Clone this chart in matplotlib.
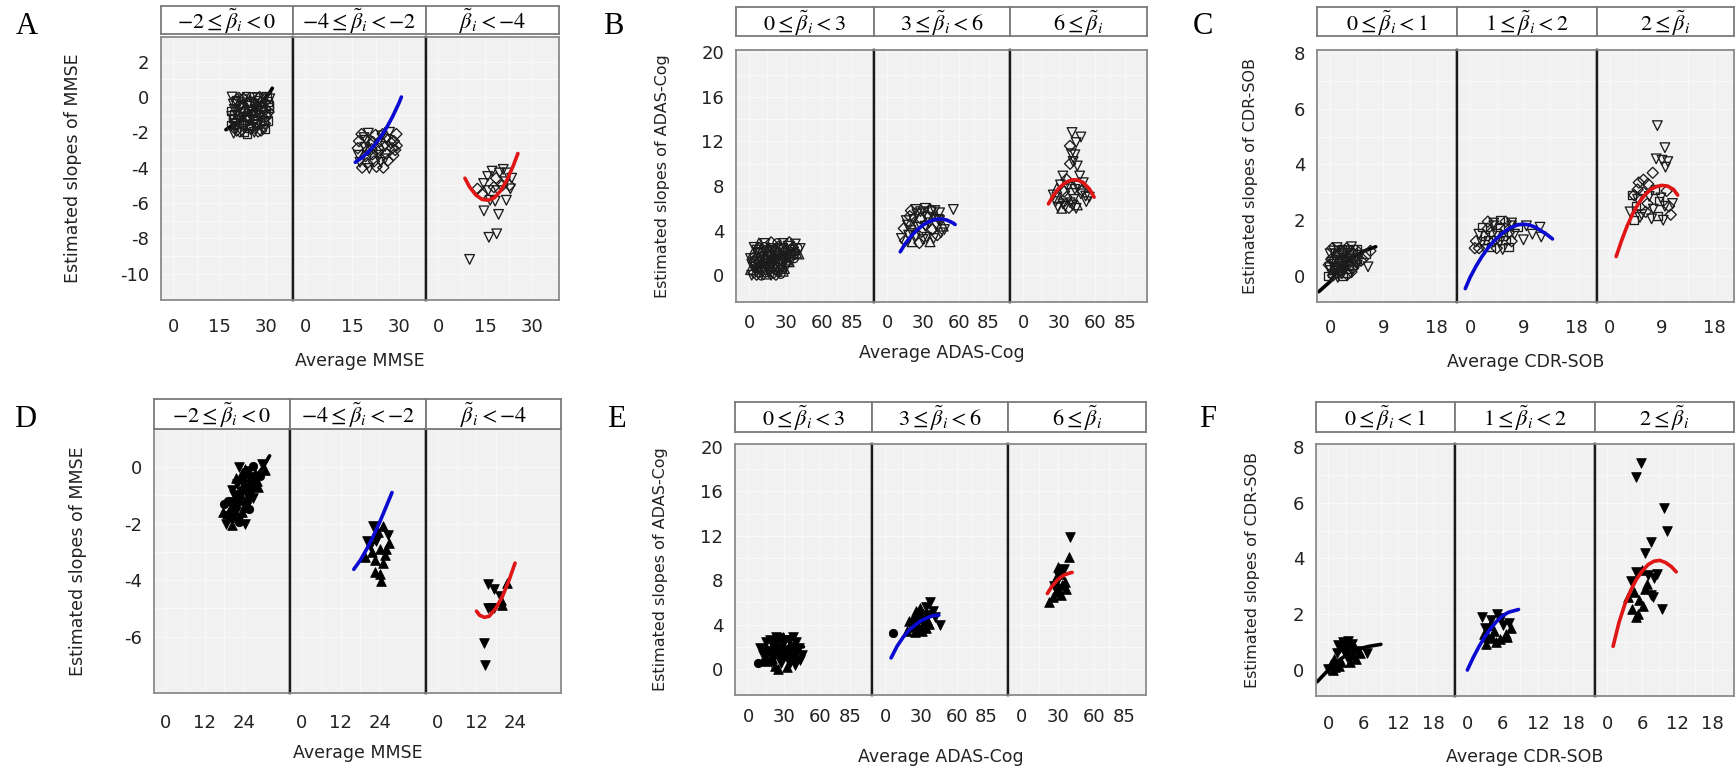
import matplotlib
matplotlib.use('Agg')
import matplotlib.pyplot as plt
import numpy as np

plt.rcParams['mathtext.fontset'] = 'stix'
plt.rcParams['font.family'] = ['DejaVu Sans']

# ---------------- DATA ----------------
# Panel A (MMSE, hollow markers)
A1_x = [19.5,21.5,23.8,26.2,28.4, 18.6,20.7,22.9,25.1,27.3,29.6, 19.2,21.4,23.5,25.8,28.0,30.2,
        18.8,20.9,23.1,25.4,27.6,29.9,31.0, 19.4,21.6,23.9,26.0,28.3,30.5, 19.0,21.2,23.4,25.7,27.9,30.1,
        20.0,22.2,24.5,26.8,29.0, 19.8,22.0,24.2,26.5,28.7,30.8, 20.3,22.5,24.8,27.1,29.3, 20.1,22.6,24.6,27.0,29.4,31.2,
        20.5,22.8,25.0,27.4,29.7, 19.6,21.8,24.0,26.3,28.6,30.6, 18.9,21.1,23.3,25.6,27.8,30.0,
        19.7,21.9,24.1,26.4,28.6,30.9, 20.4,22.7,25.0,27.2,29.5]
A1_y = [-2.05,-1.95,-2.1,-2.0,-1.9, -1.6,-1.7,-1.55,-1.65,-1.6,-1.5, -1.2,-1.3,-1.15,-1.25,-1.2,-1.1,
        -0.8,-0.85,-0.75,-0.9,-0.8,-0.7,-0.6, -0.4,-0.45,-0.35,-0.4,-0.3,-0.25, 0.0,-0.05,0.02,-0.03,0.0,0.05,
        -1.8,-1.85,-1.75,-1.8,-1.7, -1.0,-0.95,-1.05,-1.0,-0.9,-0.85, -0.2,-0.15,-0.25,-0.2,-0.1, -1.4,-0.6,-1.35,-0.55,-1.3,-0.1,
        -1.9,-2.0,-1.85,-1.95,-1.8, -1.5,-1.45,-1.55,-1.4,-1.5,-1.35, -1.1,-1.05,-1.15,-1.1,-1.0,-0.95,
        -0.7,-0.65,-0.75,-0.7,-0.6,-0.45, -0.3,-0.1,-0.25,-0.05,-0.3]
A1_m = "vDsvDsvDsvDsvDsvDsvDsvDsvDsvDsvDsvDsvDsvDsvDsvDsvDsvDsvDsvDsvDsvDsvDsvDsvDsvDsvDsvDsvDs"
A1_fx = [17, 20, 23, 26, 29, 31, 32]
A1_fy = [-1.85, -1.5, -1.1, -0.7, -0.2, 0.2, 0.5]

A2_x = [18.0,20.2,22.5,24.8,27.0,29.2, 17.2,19.4,21.6,23.9,26.1,28.4, 16.8,19.0,21.2,23.4,25.6,27.8,29.3,
        17.0,19.3,21.5,23.7,26.0,28.2, 17.5,19.8,22.0,24.2,26.5, 18.2,20.5,22.8,25.0,
        18.8,21.0,23.2,25.5,27.5,20.0,24.5,28.8]
A2_y = [-2.1,-2.05,-2.15,-2.1,-2.0,-2.1, -2.5,-2.45,-2.55,-2.5,-2.4,-2.5, -2.9,-2.85,-2.95,-2.9,-2.8,-2.9,-2.75,
        -3.3,-3.35,-3.25,-3.3,-3.2,-3.3, -3.7,-3.75,-3.65,-3.7,-3.6, -4.0,-4.05,-3.95,-4.0,
        -2.3,-2.7,-3.1,-3.5,-2.6,-3.0,-2.2,-3.0]
A2_m = "DvDDvDDvDDvDDvDDvDDvDDvDDvDDvDDvDDvDDvDDvD"
A2_fx = [16, 18, 20, 22, 24, 26, 28, 30, 30.8]
A2_fy = [-3.7, -3.45, -3.15, -2.75, -2.3, -1.75, -1.1, -0.35, 0.0]

A3_x = [10.0,16.2,18.7,14.6,19.3,21.8,16.6,23.1,12.5,14.5,15.8,17.2,18.5,19.6,20.8,22.0,23.5,17.8,19.0,20.5,21.5,16.0,22.8,18.2,14.0]
A3_y = [-9.2,-7.95,-7.75,-6.45,-6.65,-5.85,-5.85,-5.2,-5.2,-4.9,-4.5,-4.2,-4.6,-4.3,-4.1,-4.3,-4.6,-5.1,-5.3,-5.0,-4.8,-5.3,-5.0,-5.9,-5.5]
A3_m = "vvvvvvvvDvvvDvvvvDvDvvDvD"
A3_fx = [8.5, 10, 12, 14, 16, 18, 20, 22, 24, 25.5]
A3_fy = [-4.6, -5.1, -5.55, -5.8, -5.85, -5.7, -5.3, -4.7, -3.9, -3.2]

# Panel B (ADAS-Cog, hollow markers)
B1_x = [2,6,10,14,18,22,26, 1,5,9,13,17,21,25,29, 2,6,10,14,18,22,26,30,33, 1,5,9,13,17,21,25,29,33,37,
        3,7,11,15,19,23,27,31,35,39, 4,8,12,16,20,24,28,32,36,40, 8,13,18,23,28,33,38,
        4,8,12,16,20,24,28, 3,7,11,15,19,23,27,31, 4,8,12,16,20,24,28,32,35,
        5,9,13,17,21,25,29,33,37,41, 6,10,14,18,22,26,30,34,38,42]
B1_y = [0.0,0.05,-0.05,0.1,0.0,0.05,0.1, 0.5,0.45,0.55,0.5,0.4,0.55,0.5,0.6, 1.0,1.05,0.95,1.0,1.1,0.95,1.0,1.1,1.2,
        1.5,1.45,1.55,1.5,1.4,1.55,1.5,1.45,1.6,1.5, 2.0,1.95,2.05,2.0,2.1,1.95,2.0,2.05,2.1,2.0,
        2.5,2.45,2.55,2.5,2.4,2.55,2.5,2.6,2.5,2.45, 2.9,2.85,2.95,2.9,2.85,2.95,2.8,
        0.25,0.2,0.3,0.25,0.2,0.3,0.35, 0.75,0.7,0.8,0.75,0.7,0.8,0.75,0.85, 1.25,1.2,1.3,1.25,1.2,1.3,1.25,1.35,1.4,
        1.75,1.7,1.8,1.75,1.7,1.8,1.75,1.85,1.8,1.9, 2.25,2.2,2.3,2.25,2.2,2.3,2.25,2.35,2.3,2.4]
B1_m = "vDo^vDo^vDsvDo^vDovDvDo^vDo^vDsvDo^vDovDvDo^vDo^vDsvDo^vDovD"
B1_fx = [3, 20, 36]
B1_fy = [0.5, 1.4, 2.3]

B2_x = [12,15,18,21,24,27,30,33,36,39,42,45,48, 14,17,20,23,26,29,32,35,38,41,44,47,
        16,19,22,25,28,31,34,37,40,43, 20,24,28,32,36,40,44, 55.5]
B2_y = [3.3,3.1,3.6,3.0,3.5,2.9,3.2,3.4,3.0,3.3,3.6,3.8,4.1, 4.2,4.5,4.0,4.6,4.3,3.9,4.4,4.7,4.1,4.5,4.9,4.4,
        4.9,5.3,5.0,5.5,5.1,5.6,5.2,5.7,5.3,5.0, 5.8,5.9,5.7,6.0,5.9,5.8,5.6, 5.9]
B2_m = "vDv^vDvv^vDvvDvv^vDvvDvv^vDvvDvvv^vDvvvDvvv"
B2_fx = [11, 15, 20, 25, 30, 35, 40, 45, 50, 55, 57]
B2_fy = [2.1, 2.8, 3.5, 4.05, 4.5, 4.8, 5.0, 5.05, 4.95, 4.7, 4.55]

B3_x = [40.6,48,44,38.9,40,43,41.5,39,45,33,47,36,50, 25,28,31,34,37,40,43,46,49,52,
        27,30,33,36,39,42,45,48, 29,32,35,38,41,44, 55,52.5]
B3_y = [12.8,12.4,11.9,11.6,10.9,10.8,10.2,10.0,9.8,8.9,8.9,8.6,8.3, 7.2,7.8,8.1,7.5,7.9,8.2,7.7,8.0,7.6,7.1,
        6.6,6.9,6.4,7.0,6.5,6.8,6.3,7.3, 6.1,6.0,6.2,6.05,6.3,6.0, 7.0,6.6]
B3_m = "vvvDvvvDvvvDvv^vDv^vvDvv^vDvv^vv^vDvvvvv"
B3_fx = [21, 25, 30, 35, 40, 45, 50, 55, 59]
B3_fy = [6.4, 7.15, 7.85, 8.3, 8.55, 8.55, 8.3, 7.75, 7.0]

# Panel C (CDR-SOB, hollow markers)
C1_x = [-0.3,0.5,1.3,2.1,2.9, 0.0,0.8,1.6,2.4,3.2, -0.2,0.6,1.4,2.2,3.0,3.8, 0.2,1.0,1.8,2.6,3.4,4.2,5.2,
        0.0,0.8,1.6,2.4,3.2,4.0,5.0,6.0, 0.4,1.2,2.0,2.8,3.6,4.5, 5.5,6.4,4.6,6.8,
        0.4,1.2,2.0,2.8,3.6, -0.1,0.7,1.5,2.3,3.1,3.9, 0.3,1.1,1.9,2.7,3.5,4.4, 0.6,1.4,2.2,3.0,3.8,4.8]
C1_y = [0.0,0.02,-0.05,0.0,0.05, 0.2,0.22,0.18,0.2,0.25, 0.4,0.42,0.38,0.4,0.45,0.4, 0.6,0.62,0.58,0.6,0.65,0.6,0.55,
        0.8,0.82,0.78,0.8,0.85,0.8,0.75,0.8, 1.0,1.02,0.98,1.0,1.05,0.95, 0.6,0.33,0.4,0.9,
        0.1,0.12,0.08,0.1,0.15, 0.3,0.32,0.28,0.3,0.35,0.3, 0.5,0.52,0.48,0.5,0.55,0.5, 0.9,0.92,0.88,0.9,0.95,0.85]
C1_m = "sDvsDvsDvsDvsDvsDvsDvsDvsDvsDvsDvsDvsDvvDsDvsDvsDvsDvsDvsDvsDvsD"
C1_fx = [-1.9, 0, 1, 2, 3, 4, 5, 6, 7.7]
C1_fy = [-0.56, -0.2, 0.1, 0.35, 0.55, 0.7, 0.82, 0.92, 1.05]

C2_x = [1.5,2.5,3.5,4.5,5.5,6.5, 1.0,2.0,3.0,4.0,5.0,6.0,7.0, 1.5,2.5,3.5,4.5,5.5,6.5,7.5,
        2.0,3.0,4.0,5.0,6.0,7.0,8.0, 3.0,4.0,5.0,6.0,7.0, 9.5,10.5,11.8,9.0,12.0,0.8]
C2_y = [1.0,0.95,1.05,1.0,0.95,1.05, 1.25,1.2,1.3,1.25,1.2,1.3,1.25, 1.5,1.45,1.55,1.5,1.45,1.55,1.5,
        1.75,1.7,1.8,1.75,1.7,1.8,1.75, 1.95,1.9,2.0,1.95,1.9, 1.8,1.5,1.75,1.3,1.4,1.0]
C2_m = "DvsDvsDvsDvsDvsDvsDvsDvsDvsDvsDvvvvvvD"
C2_fx = [-0.8, 0, 1, 2, 3, 4, 5, 6, 7, 8, 9, 10, 11, 12, 13, 13.9]
C2_fy = [-0.45, -0.05, 0.35, 0.7, 1.0, 1.25, 1.45, 1.62, 1.75, 1.83, 1.86, 1.83, 1.75, 1.62, 1.48, 1.33]

C3_x = [8.2,9.5,8.0,9.0,10.0,9.6, 5.0,5.8,6.6,7.4,4.2,4.8, 3.5,4.5,5.5,6.5,7.5,8.5,9.5,10.5,
        3.8,4.8,5.8,6.8,7.8,8.8,9.8,10.8, 4.2,5.2,6.2,7.2,8.2,9.2,10.2]
C3_y = [5.39,4.6,4.2,4.15,4.1,3.9, 3.35,3.45,3.3,3.7,2.9,3.1, 2.3,2.5,2.2,2.6,2.4,2.7,2.5,2.2,
        2.9,2.75,3.0,2.85,3.1,2.8,3.05,2.6, 2.0,2.1,2.3,2.05,2.15,2.0,2.5]
C3_m = "vvvvvvDDDDDDvsvDvsvDsvDvsvDvsvDvsvD"
C3_fx = [1.1, 2, 3, 4, 5, 6, 7, 8, 9, 10, 11, 11.7]
C3_fy = [0.7, 1.25, 1.8, 2.25, 2.62, 2.9, 3.1, 3.2, 3.25, 3.22, 3.1, 2.9]

# Panel D (MMSE, filled markers)
D1_x = [22.5,24.5,27.0,29.5, 21.5,23.5,25.5,27.5,29.0, 20.5,22.5,24.5,26.5,28.5, 19.0,21.0,23.0,25.0,27.0,
        17.5,19.5,21.5,23.5,25.5, 18.5,20.5,22.5,24.5, 30.5,18.0,26.0,
        23.5,25.5,27.5,22.0,24.0,26.0,28.0,21.0,23.0,25.0,20.0,22.0,24.0,19.0,21.0,23.0]
D1_y = [0.0,-0.05,0.05,0.1, -0.4,-0.45,-0.35,-0.4,-0.3, -0.8,-0.85,-0.75,-0.8,-0.7, -1.2,-1.25,-1.15,-1.2,-1.1,
        -1.6,-1.65,-1.55,-1.6,-1.5, -2.0,-2.05,-1.95,-2.0, -0.1,-1.3,-1.0,
        -0.2,-0.15,-0.2,-0.6,-0.55,-0.6,-0.5,-1.0,-0.95,-1.0,-1.4,-1.35,-1.4,-1.8,-1.75,-1.8]
D1_m = "v^ov^ov^ov^ov^ov^ov^ov^ov^ov^ov^v^v^v^v^v^v^v^"
D1_fx = [18, 22, 26, 30, 32]
D1_fy = [-1.8, -1.2, -0.6, 0.0, 0.4]

D2_x = [20,22,23.5,25,26.5,21,24,26,19.5,22.5,25,24,22.5,24.5,27,21.5,25.5,23]
D2_y = [-2.6,-2.1,-2.3,-2.1,-2.4,-2.8,-2.9,-2.9,-3.2,-3.3,-3.4,-3.8,-3.7,-4.05,-2.7,-3.0,-3.1,-2.6]
D2_m = "vv^^vv^^^^^^^^^^^v"
D2_fx = [16, 18, 20, 22, 24, 26, 27.8]
D2_fy = [-3.62, -3.3, -2.9, -2.45, -1.95, -1.4, -0.9]

D3_x = [14.4,14.5,15.6,17.5,19.3,21.6,15.6,17.5,20,16.5,19.5]
D3_y = [-6.24,-7.0,-4.15,-4.3,-4.55,-4.1,-5.0,-5.0,-4.9,-5.0,-4.7]
D3_m = "vvvvv^vv^v^"
D3_fx = [12, 13, 14.5, 16, 18, 20, 22, 24]
D3_fy = [-5.1, -5.25, -5.32, -5.28, -5.0, -4.6, -4.05, -3.4]

# Panel E (ADAS-Cog, filled markers)
E1_x = [8.5,12,15,18,20,22,24,26,28,30,32,34,36,38,40,43,45,14,17,25,29,33,35,21,27,31,19,23,37,10,39,42,
        13,16,19,22,25,28,31,34,37,40,15,18,21,24,27,30,33,36,39]
E1_y = [0.55,1.3,2.0,2.6,1.0,0.3,1.8,2.8,2.2,1.2,0.2,2.6,1.6,0.9,2.4,0.8,1.3,0.7,1.6,0.0,2.9,1.9,0.5,2.3,1.4,2.6,0.6,2.9,2.9,1.9,1.2,1.9,
        1.0,1.4,1.9,1.3,1.6,0.9,1.7,1.1,2.0,1.5,2.4,0.8,1.6,2.4,0.5,2.0,0.8,2.2,0.4]
E1_m = "ov^v^^vv^v^v^vvvv^^^^^vv^vvvvv^v^v^v^v^v^vv^v^v^v^v"
E1_fx = [30, 38, 46]
E1_fy = [1.95, 2.0, 2.0]

E2_x = [7,18,20,22,24,25,26,27,28,29,30,31,32,33,34,35,36,38,40,42,46,23,28,31,34,37]
E2_y = [3.2,3.4,4.3,3.8,4.8,3.3,5.2,4.1,3.6,5.5,4.6,3.9,5.0,4.2,5.6,4.4,4.9,6.0,5.2,4.7,4.0,4.4,5.0,3.4,3.7,4.1]
E2_m = "o^^^^^^^^^^^^vv^vvvvv^^^^^"
E2_fx = [5, 10, 15, 20, 25, 30, 35, 40, 45]
E2_fy = [1.0, 2.05, 2.85, 3.5, 3.95, 4.35, 4.6, 4.8, 4.85]

E3_x = [40.5,39.3,30,32,28,34,30,36,33,26,23,35,31,29,37,27]
E3_y = [11.9,10.1,9.2,8.6,8.0,7.6,7.2,7.8,6.7,6.5,6.0,9.0,8.3,6.9,7.2,7.5]
E3_m = "v^^^^^^^^^^vv^^v"
E3_fx = [21.5, 25, 30, 35, 40, 42]
E3_fy = [6.8, 7.4, 8.05, 8.45, 8.65, 8.7]

# Panel F (CDR-SOB, filled markers)
F1_x = [0.0,0.5,1.0,1.5,2.0,2.5,3.0,3.5,4.0,4.5,1.2,2.2,3.2,4.2,5.0,5.5,6.7,1.8,2.8,3.8,0.8,2.6,3.4,4.8,1.6]
F1_y = [0.05,0.2,0.4,0.6,0.8,1.0,0.9,0.75,0.95,0.8,0.1,0.3,0.45,0.55,0.7,0.6,0.6,0.15,0.6,0.3,0.0,0.75,1.05,0.4,0.9]
F1_m = "v^^vvvvvv^^^v^v^v^v^^vv^v"
F1_fx = [-1.9, 0, 1, 2, 3, 4, 5, 6, 7, 9]
F1_fy = [-0.42, 0.0, 0.2, 0.38, 0.52, 0.63, 0.72, 0.8, 0.85, 0.92]

F2_x = [2.5,3.0,3.5,4.0,4.5,5.0,5.5,6.0,6.5,7.0,7.5,3.2,4.8,5.8,3.8,6.8,2.8,4.2]
F2_y = [1.9,1.5,1.2,1.8,1.4,2.0,1.1,1.6,1.3,1.7,1.5,0.95,1.0,1.85,1.6,1.2,1.3,1.15]
F2_m = "vv^v^v^v^v^^^v^^^^"
F2_fx = [0, 1, 2, 3, 4, 5, 6, 7, 8.7]
F2_fy = [0.0, 0.45, 0.85, 1.2, 1.5, 1.75, 1.95, 2.07, 2.17]

F3_x = [5.8,5.0,9.65,10.3,7.5,6.4,9.3,4.0,5.0,6.0,7.0,8.0,8.6,4.5,5.5,6.5,7.5,4.2,5.2,6.2,5.0,7.8,3.6,6.8]
F3_y = [7.41,6.9,5.8,4.99,4.6,4.2,2.2,3.2,3.5,3.6,3.4,3.3,3.45,2.8,2.5,2.9,2.7,2.2,2.0,2.3,1.9,2.6,2.6,3.1]
F3_m = "vvvvvvvvv^vvv^^^v^^^^v^^"
F3_fx = [1, 2, 3, 4, 5, 6, 7, 8, 9, 10, 11, 11.8]
F3_fy = [0.85, 1.7, 2.35, 2.85, 3.25, 3.55, 3.78, 3.9, 3.93, 3.85, 3.7, 3.52]

MMSE_strips = [r'$-2 \leq \tilde{\beta}_i < 0$', r'$-4 \leq \tilde{\beta}_i < -2$', r'$\tilde{\beta}_i < -4$']
ADAS_strips = [r'$0 \leq \tilde{\beta}_i < 3$', r'$3 \leq \tilde{\beta}_i < 6$', r'$6 \leq \tilde{\beta}_i$']
CDR_strips = [r'$0 \leq \tilde{\beta}_i < 1$', r'$1 \leq \tilde{\beta}_i < 2$', r'$2 \leq \tilde{\beta}_i$']

# ---------------- DRAWING ----------------
W, H = 1736, 771
fig = plt.figure(figsize=(W / 100, H / 100), dpi=100)
fig.patch.set_facecolor('white')


def add_ax(x0, y0, x1, y1):
    return fig.add_axes([x0 / W, 1 - y1 / H, (x1 - x0) / W, (y1 - y0) / H])


def draw_group(letter, lxy, xs, strip_y, plot_y, strips, xlim, ylim, yticks, xticks,
               xlabel, ylabel, ylab_x, xpad, xlab_y, facets, filled, ylab_size):
    fig.text(lxy[0] / W, 1 - lxy[1] / H, letter, family='Liberation Serif', fontsize=22,
             ha='center', va='center')
    colors = ['black', '#0a0ad0', '#e01515']
    for i in range(3):
        ax = add_ax(xs[i], plot_y[0], xs[i + 1], plot_y[1])
        ax.set_facecolor('#f1f1f1')
        ax.set_xlim(*xlim)
        ax.set_ylim(*ylim)
        ax.set_xticks(xticks)
        ax.set_xticklabels([str(t) for t in xticks])
        ax.set_yticks(yticks)
        ax.set_yticklabels([str(t) for t in yticks])
        mx = [(a + b) / 2 for a, b in zip(xticks[:-1], xticks[1:])]
        my = [(a + b) / 2 for a, b in zip(yticks[:-1], yticks[1:])]
        ax.set_xticks(mx, minor=True)
        ax.set_yticks(my, minor=True)
        ax.grid(True, which='both', color='#f8f8f8', lw=0.9)
        ax.set_axisbelow(True)
        ax.tick_params(axis='both', which='both', length=0, labelsize=13, colors='#222222')
        ax.tick_params(axis='x', pad=xpad)
        ax.tick_params(axis='y', pad=8.5)
        if i > 0:
            ax.tick_params(axis='y', labelleft=False)
        for sp in ax.spines.values():
            sp.set_color('#8a8a8a')
            sp.set_linewidth(1.3)
        if i > 0:
            ax.spines['left'].set_color('#1a1a1a')
            ax.spines['left'].set_linewidth(1.7)
        if i < 2:
            ax.spines['right'].set_color('#1a1a1a')
            ax.spines['right'].set_linewidth(1.7)
        x, y, m, fx, fy = facets[i]
        x = np.asarray(x, float)
        y = np.asarray(y, float)
        codes = np.array([m[k % len(m)] for k in range(len(x))])
        for mk in sorted(set(codes)):
            sel = codes == mk
            size = 48 if mk in 'v^' else (32 if mk == 'D' else 36)
            if filled:
                ax.scatter(x[sel], y[sel], marker=mk, s=size, facecolors='black',
                           edgecolors='black', linewidths=0.6, zorder=3)
            else:
                ax.scatter(x[sel], y[sel], marker=mk, s=size, facecolors='none',
                           edgecolors='#1c1c1c', linewidths=0.95, zorder=3)
        ax.plot(fx, fy, color=colors[i], lw=2.6, zorder=(2.5 if i == 0 else 4),
                solid_capstyle='round')
        # strip
        sax = add_ax(xs[i], strip_y[0], xs[i + 1], strip_y[1])
        sax.set_xticks([])
        sax.set_yticks([])
        sax.set_facecolor('white')
        for sp in sax.spines.values():
            sp.set_color('#7a7a7a')
            sp.set_linewidth(1.3)
        sax.text(0.5, 0.45, strips[i], ha='center', va='center', fontsize=16,
                 transform=sax.transAxes)
    cx = (xs[0] + xs[3]) / 2
    fig.text(cx / W, 1 - xlab_y / H, xlabel, ha='center', va='center', fontsize=12.5,
             color='#222222')
    cy = (plot_y[0] + plot_y[1]) / 2
    fig.text(ylab_x / W, 1 - cy / H, ylabel, ha='center', va='center', rotation=90,
             fontsize=ylab_size, color='#222222')


draw_group('A', (27, 27), [161, 293, 426, 559], (6, 34), (37, 300), MMSE_strips,
           (-4.0, 38.7), (-11.5, 3.4), [-10, -8, -6, -4, -2, 0, 2], [0, 15, 30],
           'Average MMSE', 'Estimated slopes of MMSE', 73, 13, 361,
           [(A1_x, A1_y, A1_m, A1_fx, A1_fy), (A2_x, A2_y, A2_m, A2_fx, A2_fy),
            (A3_x, A3_y, A3_m, A3_fx, A3_fy)], False, 12.5)

draw_group('B', (613, 27), [736, 874, 1010, 1147], (7, 36), (50, 302), ADAS_strips,
           (-11, 103), (-2.4, 20.2), [0, 4, 8, 12, 16, 20], [0, 30, 60, 85],
           'Average ADAS-Cog', 'Estimated slopes of ADAS-Cog', 662, 9, 353,
           [(B1_x, B1_y, B1_m, B1_fx, B1_fy), (B2_x, B2_y, B2_m, B2_fx, B2_fy),
            (B3_x, B3_y, B3_m, B3_fx, B3_fy)], False, 11.5)

draw_group('C', (1203, 27), [1317, 1457, 1597, 1734], (7, 36), (50, 302), CDR_strips,
           (-2.2, 21.4), (-0.93, 8.1), [0, 2, 4, 6, 8], [0, 9, 18],
           'Average CDR-SOB', 'Estimated slopes of CDR-SOB', 1250, 12, 362,
           [(C1_x, C1_y, C1_m, C1_fx, C1_fy), (C2_x, C2_y, C2_m, C2_fx, C2_fy),
            (C3_x, C3_y, C3_m, C3_fx, C3_fy)], False, 11.5)

draw_group('D', (25, 420), [154, 290, 426, 561], (399, 429), (429, 693), MMSE_strips,
           (-3.7, 38.3), (-8.0, 1.35), [-6, -4, -2, 0], [0, 12, 24],
           'Average MMSE', 'Estimated slopes of MMSE', 78, 15, 753,
           [(D1_x, D1_y, D1_m, D1_fx, D1_fy), (D2_x, D2_y, D2_m, D2_fx, D2_fy),
            (D3_x, D3_y, D3_m, D3_fx, D3_fy)], True, 12.5)

draw_group('E', (616, 420), [735, 872, 1008, 1146], (402, 432), (444, 695), ADAS_strips,
           (-11, 103), (-2.34, 20.27), [0, 4, 8, 12, 16, 20], [0, 30, 60, 85],
           'Average ADAS-Cog', 'Estimated slopes of ADAS-Cog', 660, 9, 757,
           [(E1_x, E1_y, E1_m, E1_fx, E1_fy), (E2_x, E2_y, E2_m, E2_fx, E2_fy),
            (E3_x, E3_y, E3_m, E3_fx, E3_fy)], True, 11.5)

draw_group('F', (1208, 420), [1316, 1455, 1595, 1734], (402, 432), (444, 696), CDR_strips,
           (-2.1, 21.7), (-0.93, 8.1), [0, 2, 4, 6, 8], [0, 6, 12, 18],
           'Average CDR-SOB', 'Estimated slopes of CDR-SOB', 1252, 14, 757,
           [(F1_x, F1_y, F1_m, F1_fx, F1_fy), (F2_x, F2_y, F2_m, F2_fx, F2_fy),
            (F3_x, F3_y, F3_m, F3_fx, F3_fy)], True, 11.5)

fig.savefig('out.png', dpi=100, facecolor='white')
